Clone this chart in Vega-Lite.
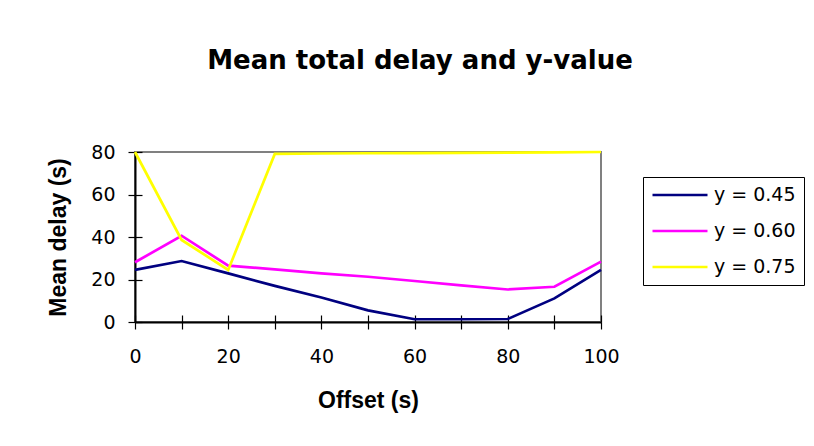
{
  "$schema": "https://vega.github.io/schema/vega-lite/v6.json",
  "width": 466,
  "height": 170,
  "autosize": {"type": "none"},
  "padding": {"left": 135, "top": 152, "right": 213, "bottom": 124},
  "background": "white",
  "title": {
    "text": "Mean total delay and y-value",
    "font": "DejaVu Sans",
    "fontSize": 26,
    "fontWeight": "bold",
    "color": "#000000",
    "anchor": "middle",
    "baseline": "alphabetic",
    "offset": 48,
    "dx": 52
  },
  "data": {
    "values": [
      {"series": "y = 0.45", "offset": 0, "delay": 24.5},
      {"series": "y = 0.45", "offset": 10, "delay": 28.7},
      {"series": "y = 0.45", "offset": 20, "delay": 22.9},
      {"series": "y = 0.45", "offset": 30, "delay": 17.0},
      {"series": "y = 0.45", "offset": 40, "delay": 11.5},
      {"series": "y = 0.45", "offset": 50, "delay": 5.5},
      {"series": "y = 0.45", "offset": 60, "delay": 1.3},
      {"series": "y = 0.45", "offset": 70, "delay": 1.3},
      {"series": "y = 0.45", "offset": 80, "delay": 1.4},
      {"series": "y = 0.45", "offset": 90, "delay": 11.1},
      {"series": "y = 0.45", "offset": 100, "delay": 24.5},
      {"series": "y = 0.60", "offset": 0, "delay": 28.1},
      {"series": "y = 0.60", "offset": 10, "delay": 40.6},
      {"series": "y = 0.60", "offset": 20, "delay": 26.5},
      {"series": "y = 0.60", "offset": 30, "delay": 24.8},
      {"series": "y = 0.60", "offset": 40, "delay": 22.9},
      {"series": "y = 0.60", "offset": 50, "delay": 21.3},
      {"series": "y = 0.60", "offset": 60, "delay": 19.3},
      {"series": "y = 0.60", "offset": 70, "delay": 17.2},
      {"series": "y = 0.60", "offset": 80, "delay": 15.3},
      {"series": "y = 0.60", "offset": 90, "delay": 16.6},
      {"series": "y = 0.60", "offset": 100, "delay": 28.4},
      {"series": "y = 0.75", "offset": 0, "delay": 80.0},
      {"series": "y = 0.75", "offset": 10, "delay": 38.6},
      {"series": "y = 0.75", "offset": 20, "delay": 24.5},
      {"series": "y = 0.75", "offset": 30, "delay": 79.1},
      {"series": "y = 0.75", "offset": 40, "delay": 79.3},
      {"series": "y = 0.75", "offset": 50, "delay": 79.4},
      {"series": "y = 0.75", "offset": 60, "delay": 79.5},
      {"series": "y = 0.75", "offset": 70, "delay": 79.6},
      {"series": "y = 0.75", "offset": 80, "delay": 79.7},
      {"series": "y = 0.75", "offset": 90, "delay": 79.8},
      {"series": "y = 0.75", "offset": 100, "delay": 80.0}
    ]
  },
  "layer": [
    {
      "mark": {"type": "line", "strokeWidth": 2.7},
      "encoding": {
        "x": {
          "field": "offset",
          "type": "quantitative",
          "scale": {"domain": [0, 100], "nice": false},
          "axis": {
            "orient": "bottom",
            "offset": 0,
            "title": "Offset (s)",
            "values": [0, 10, 20, 30, 40, 50, 60, 70, 80, 90, 100],
            "labelExpr": "datum.value % 20 === 0 ? datum.label : ''",
            "tickSize": 7,
            "labelPadding": 18,
            "titlePadding": 23
          }
        },
        "y": {
          "field": "delay",
          "type": "quantitative",
          "scale": {"domain": [0, 80], "nice": false},
          "axis": {
            "orient": "left",
            "offset": 0,
            "title": "Mean delay (s)",
            "values": [0, 20, 40, 60, 80],
            "tickSize": 7,
            "labelPadding": 13,
            "titlePadding": 20
          }
        },
        "color": {
          "field": "series",
          "type": "nominal",
          "scale": {
            "domain": ["y = 0.45", "y = 0.60", "y = 0.75"],
            "range": ["#000080", "#FF00FF", "#FFFF00"]
          },
          "legend": {
            "orient": "none",
            "legendX": 508,
            "legendY": 25,
            "title": null,
            "strokeColor": "#000000",
            "fillColor": "#FFFFFF",
            "padding": 8,
            "labelFont": "DejaVu Sans",
            "labelFontSize": 19,
            "labelColor": "#000000",
            "labelOffset": 5,
            "symbolType": "stroke",
            "symbolSize": 3025,
            "symbolStrokeWidth": 2.5,
            "clipHeight": 20,
            "rowPadding": 16
          }
        }
      }
    },
    {
      "mark": {"type": "line", "strokeOpacity": 0},
      "encoding": {
        "x": {
          "field": "offset",
          "type": "quantitative",
          "scale": {"domain": [0, 100], "nice": false},
          "axis": {
            "orient": "bottom",
            "offset": 0,
            "title": null,
            "labels": false,
            "domain": false,
            "values": [0, 10, 20, 30, 40, 50, 60, 70, 80, 90, 100],
            "tickSize": -7
          }
        },
        "y": {
          "field": "delay",
          "type": "quantitative",
          "scale": {"domain": [0, 80], "nice": false},
          "axis": {
            "orient": "left",
            "offset": 0,
            "title": null,
            "labels": false,
            "domain": false,
            "values": [0, 20, 40, 60, 80],
            "tickSize": -7
          }
        },
        "detail": {"field": "series", "type": "nominal"}
      }
    }
  ],
  "resolve": {"axis": {"x": "independent", "y": "independent"}},
  "config": {
    "view": {"stroke": "#808080", "strokeWidth": 2},
    "axis": {
      "grid": false,
      "domainColor": "#000000",
      "domainWidth": 2,
      "tickColor": "#000000",
      "tickWidth": 1.2,
      "labelFont": "DejaVu Sans",
      "labelFontSize": 19,
      "labelColor": "#000000",
      "labelFlush": false,
      "labelOverlap": false,
      "labelBound": false,
      "titleFont": "Liberation Sans",
      "titleFontSize": 23,
      "titleFontWeight": "bold",
      "titleColor": "#000000"
    }
  }
}
